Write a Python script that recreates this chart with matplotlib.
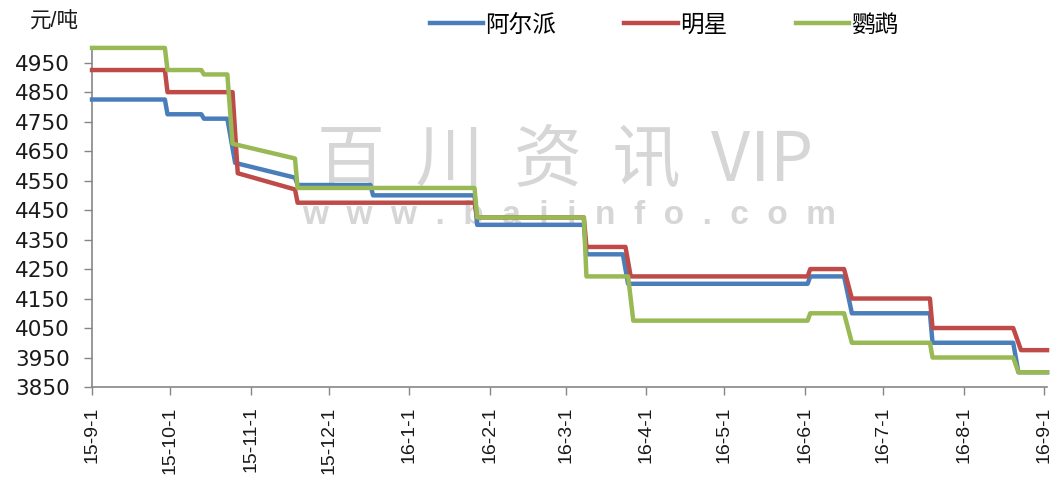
import matplotlib
matplotlib.use("Agg")
import matplotlib.pyplot as plt
import pandas as pd

plt.rcParams['font.family'] = ['Liberation Sans', 'Noto Sans CJK SC', 'DejaVu Sans']

# price change points (date, yuan/ton)
alps_dates = ['2015-09-01', '2015-09-29', '2015-09-30', '2015-10-13', '2015-10-14',
              '2015-10-23', '2015-10-26', '2015-11-18', '2015-11-19', '2015-12-17',
              '2015-12-18', '2016-01-26', '2016-01-27', '2016-03-08', '2016-03-09',
              '2016-03-23', '2016-03-25', '2016-06-02', '2016-06-03', '2016-06-16',
              '2016-06-19', '2016-07-19', '2016-07-20', '2016-08-20', '2016-08-22',
              '2016-09-02']
alps_vals = [4825, 4825, 4775, 4775, 4760, 4760, 4610, 4560, 4535, 4535,
             4500, 4500, 4400, 4400, 4300, 4300, 4200, 4200, 4225, 4225,
             4100, 4100, 4000, 4000, 3900, 3900]

star_dates = ['2015-09-01', '2015-09-29', '2015-09-30', '2015-10-25', '2015-10-27',
              '2015-11-18', '2015-11-19', '2016-01-26', '2016-01-27', '2016-03-08',
              '2016-03-09', '2016-03-24', '2016-03-26', '2016-06-02', '2016-06-03',
              '2016-06-16', '2016-06-19', '2016-07-19', '2016-07-20', '2016-08-20',
              '2016-08-23', '2016-09-02']
star_vals = [4925, 4925, 4850, 4850, 4575, 4520, 4475, 4475, 4425, 4425,
             4325, 4325, 4225, 4225, 4250, 4250, 4150, 4150, 4050, 4050,
             3975, 3975]

parrot_dates = ['2015-09-01', '2015-09-29', '2015-09-30', '2015-10-13', '2015-10-14',
                '2015-10-23', '2015-10-25', '2015-11-18', '2015-11-19', '2016-01-26',
                '2016-01-27', '2016-03-08', '2016-03-09', '2016-03-25', '2016-03-27',
                '2016-06-02', '2016-06-03', '2016-06-16', '2016-06-19', '2016-07-19',
                '2016-07-20', '2016-08-20', '2016-08-22', '2016-09-02']
parrot_vals = [5000, 5000, 4925, 4925, 4910, 4910, 4675, 4625, 4525, 4525,
               4425, 4425, 4225, 4225, 4075, 4075, 4100, 4100, 4000, 4000,
               3950, 3950, 3900, 3900]

names = ['阿尔派', '明星', '鹦鹉']
colors = ['#4a7ebb', '#be4b48', '#98b954']

tick_dates = ['2015-09-01', '2015-10-01', '2015-11-01', '2015-12-01', '2016-01-01',
              '2016-02-01', '2016-03-01', '2016-04-01', '2016-05-01', '2016-06-01',
              '2016-07-01', '2016-08-01', '2016-09-01']
tick_labels = ['15-9-1', '15-10-1', '15-11-1', '15-12-1', '16-1-1', '16-2-1', '16-3-1',
               '16-4-1', '16-5-1', '16-6-1', '16-7-1', '16-8-1', '16-9-1']
y_ticks = list(range(3850, 5000, 100))

fig = plt.figure(figsize=(10.59, 4.95), dpi=100)
ax = fig.add_axes([0.0869, 0.2182, 0.9018, 0.685])

# watermark
ax.text(0.495, 0.665, '百  川  资  讯  VIP', transform=ax.transAxes, ha='center', va='center',
        fontsize=49, color='#d6d6d6', zorder=0, family=['Noto Sans CJK SC', 'DejaVu Sans'])
ax.text(0.5, 0.505, 'w  w  w  .  b  a  i  i  n  f  o  .  c  o  m', transform=ax.transAxes,
        ha='center', va='center', fontsize=24, fontweight='bold', color='#d6d6d6', zorder=0)

series = [(alps_dates, alps_vals), (star_dates, star_vals), (parrot_dates, parrot_vals)]
for (d, v), name, c in zip(series, names, colors):
    ax.plot(pd.to_datetime(d), v, color=c, lw=3.2, label=name, solid_joinstyle='round',
            zorder=3, clip_on=False)

ax.set_xlim(pd.Timestamp('2015-09-01'), pd.Timestamp('2016-09-02'))
ax.set_ylim(3850, 5000)
ax.set_yticks(y_ticks)
ax.set_xticks(pd.to_datetime(tick_dates))
ax.set_xticklabels(tick_labels, rotation=90, fontsize=14)
for lab in ax.get_yticklabels():
    lab.set_family('DejaVu Sans')
    lab.set_fontsize(15.5)
ax.tick_params(axis='both', direction='out', length=6, width=1, color='#868686',
               labelcolor='#1a1a1a')
ax.tick_params(axis='y', pad=10)
ax.tick_params(axis='x', pad=8)

for s in ['top', 'right']:
    ax.spines[s].set_visible(False)
for s in ['left', 'bottom']:
    ax.spines[s].set_color('#868686')
    ax.spines[s].set_linewidth(1.2)

fig.text(0.028, 0.955, '元/吨', fontsize=15.5, color='#1a1a1a', va='center')

leg = fig.legend(loc='center', bbox_to_anchor=(0.627, 0.948), ncol=3, frameon=False,
                 fontsize=17, handlelength=2.25, handletextpad=0.1, columnspacing=2.9)

fig.savefig('out.png', dpi=100)
